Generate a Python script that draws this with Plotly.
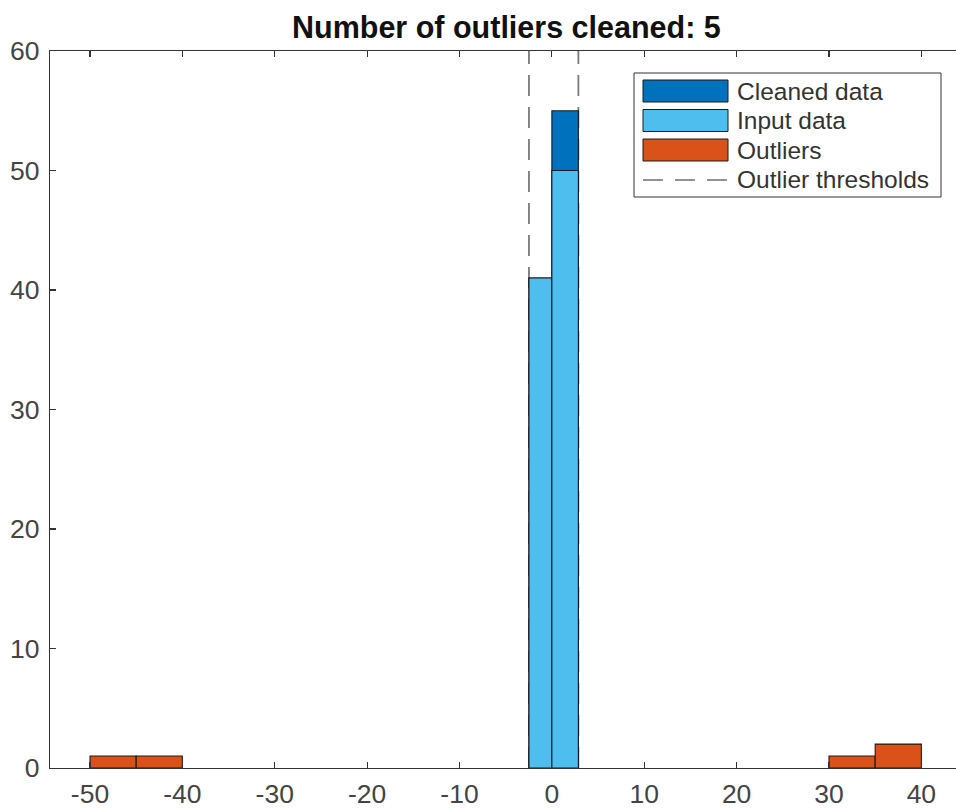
import numpy as np
import plotly.graph_objects as go

# ---- data ----
central_edges = [-2.48, 0.0, 2.87]
input_counts = [41, 50]
cleaned_counts = [41, 55]
outlier_edges_left = [-50, -45, -40]
outlier_counts_left = [1, 1]
outlier_edges_right = [30, 35, 40]
outlier_counts_right = [1, 2]
thresholds = [-2.48, 2.87]
x_tickvals = [-50, -40, -30, -20, -10, 0, 10, 20, 30, 40]
x_ticktext = ["-50", "-40", "-30", "-20", "-10", "0", "10", "20", "30", "40"]
y_tickvals = [0, 10, 20, 30, 40, 50, 60]
title_text = "Number of outliers cleaned: 5"
legend_labels = ["Cleaned data", "Input data", "Outliers", "Outlier thresholds"]

C_CLEAN = "#0072BD"
C_INPUT = "#4DBEEE"
C_OUT = "#D95319"
FONT = "Liberation Sans, Arial, sans-serif"

W, H = 956, 808
ML, MR, MT, MB = 50, 0, 51, 40
PW, PH = W - ML - MR, H - MT - MB


def px2paper(px, py):
    return (px - ML) / PW, (H - MB - py) / PH


def centers_widths(edges):
    e = np.asarray(edges, dtype=float)
    return (e[:-1] + e[1:]) / 2, np.diff(e)


fig = go.Figure()
edge_line = dict(color="rgba(20,20,20,0.95)", width=1.1)

cx, cw = centers_widths(central_edges)
fig.add_trace(go.Bar(x=cx, y=cleaned_counts, width=cw, marker=dict(color=C_CLEAN, line=edge_line),
                     name=legend_labels[0], showlegend=False))
fig.add_trace(go.Bar(x=cx, y=input_counts, width=cw, marker=dict(color=C_INPUT, line=edge_line),
                     name=legend_labels[1], showlegend=False))
ox = []
ow = []
oy = []
for e, c in [(outlier_edges_left, outlier_counts_left), (outlier_edges_right, outlier_counts_right)]:
    a, b = centers_widths(e)
    ox += list(a)
    ow += list(b)
    oy += list(c)
fig.add_trace(go.Bar(x=ox, y=oy, width=ow, marker=dict(color=C_OUT, line=edge_line),
                     name=legend_labels[2], showlegend=False))

shapes = []
for t in thresholds:
    shapes.append(dict(type="line", xref="x", yref="paper", x0=t, x1=t, y0=0, y1=1,
                       line=dict(color="#7a7a7a", width=1.8, dash="21px,11px"), layer="below"))

# manual legend
lx0, ly0 = px2paper(634, 73)
lx1, ly1 = px2paper(941, 197)
shapes.append(dict(type="rect", xref="paper", yref="paper", x0=lx0, x1=lx1, y0=ly1, y1=ly0,
                   line=dict(color="#333333", width=1), fillcolor="white", layer="above"))
rows = [91, 120.5, 150, 180]
annotations = []
for i, (col, r) in enumerate(zip([C_CLEAN, C_INPUT, C_OUT], rows[:3])):
    a0, b0 = px2paper(643, r - 11)
    a1, b1 = px2paper(728, r + 11)
    shapes.append(dict(type="rect", xref="paper", yref="paper", x0=a0, x1=a1, y0=b1, y1=b0,
                       line=dict(color="#1a1a1a", width=1), fillcolor=col, layer="above"))
a0, b0 = px2paper(643, rows[3])
a1, _ = px2paper(728, rows[3])
shapes.append(dict(type="line", xref="paper", yref="paper", x0=a0, x1=a1, y0=b0, y1=b0,
                   line=dict(color="#262626", width=1, dash="20px,12px"), layer="above"))
for lab, r in zip(legend_labels, rows):
    ax, ay = px2paper(735, r)
    annotations.append(dict(text=lab, xref="paper", yref="paper", x=ax, y=ay, xanchor="left",
                            yanchor="middle", showarrow=False,
                            font=dict(family=FONT, size=24.5, color="#333333")))

tx, ty = px2paper(506.7, 27)
annotations.append(dict(text="<b>" + title_text + "</b>", xref="paper", yref="paper", x=tx, y=ty,
                        xanchor="center", yanchor="middle", showarrow=False,
                        font=dict(family=FONT, size=30.5, color="#111111")))

axis_common = dict(showgrid=False, zeroline=False, showline=True, linecolor="#333333", linewidth=1.2,
                   ticks="inside", ticklen=6, tickwidth=1.2, tickcolor="#333333", automargin=False,
                   tickfont=dict(family=FONT, size=26.5, color="#444444"))
fig.update_layout(
    width=W, height=H, margin=dict(l=ML, r=MR, t=MT, b=MB, autoexpand=False),
    paper_bgcolor="white", plot_bgcolor="white",
    barmode="overlay", bargap=0, showlegend=False,
    xaxis=dict(range=[-54.33, 43.75], tickvals=x_tickvals, ticktext=x_ticktext, mirror="ticks",
               ticklabelstandoff=2, **axis_common),
    yaxis=dict(range=[0, 60], tickvals=y_tickvals, mirror=False, ticklabelstandoff=4, **axis_common),
    shapes=shapes, annotations=annotations,
)
fig.write_html("out.html", config={"displayModeBar": False, "staticPlot": True},
               post_script="document.body.style.margin='0';document.body.style.overflow='hidden';")
